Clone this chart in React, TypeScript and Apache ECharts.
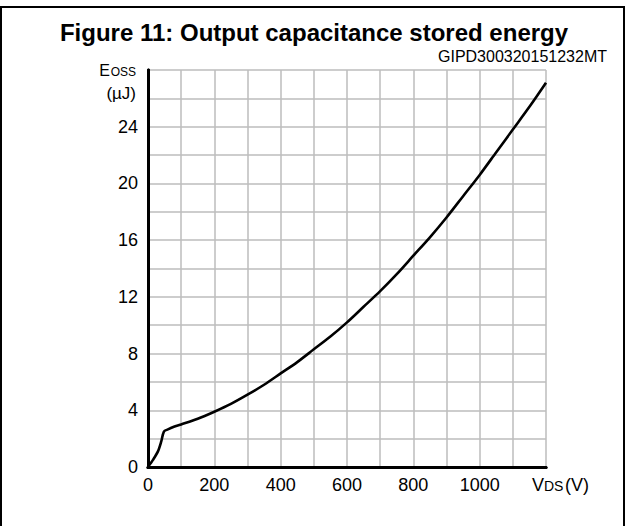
import React, { useEffect, useRef } from "react";
import * as echarts from "echarts";

// Drain-source voltage (V) and output capacitance stored energy (µJ)
const vdsValues = [0, 15, 30, 40, 48, 60, 80, 100, 150, 200, 250, 300, 350, 400, 450, 500, 550, 600, 650, 700, 750, 800, 850, 900, 950, 1000, 1050, 1100, 1150, 1200];
const eossValues = [0, 0.5, 1.1, 1.8, 2.5, 2.65, 2.85, 3.0, 3.4, 3.9, 4.45, 5.1, 5.8, 6.6, 7.4, 8.3, 9.2, 10.2, 11.3, 12.4, 13.6, 14.9, 16.2, 17.6, 19.1, 20.6, 22.2, 23.8, 25.4, 27.1];

const xTickLabels = [0, 200, 400, 600, 800, 1000];
const yTickLabels = [0, 4, 8, 12, 16, 20, 24];

const titleText = "Figure 11: Output capacitance stored energy";
const codeText = "GIPD300320151232MT";

const FONT = "Liberation Sans, Arial, Helvetica, sans-serif";

export default function App() {
  const ref = useRef<HTMLDivElement>(null);

  useEffect(() => {
    if (!ref.current) return;
    const chart = echarts.init(ref.current, undefined, { renderer: "svg" });
    const data = vdsValues.map((v, i) => [v, eossValues[i]]);
    const gridLine = { show: true, lineStyle: { color: "#bdbdbd", width: 1.5 } };
    const borderAxis = { show: true, lineStyle: { color: "#000", width: 3 } };

    chart.setOption({
      animation: false,
      backgroundColor: "#fff",
      grid: { left: 148, top: 70, right: 83, bottom: 59, containLabel: false },
      xAxis: [
        {
          type: "value",
          min: 0,
          max: 1200,
          interval: 100,
          axisLine: borderAxis,
          axisTick: { show: false },
          splitLine: gridLine,
          axisLabel: {
            interval: 0,
            margin: 9,
            fontSize: 18,
            fontFamily: FONT,
            color: "#000",
            showMaxLabel: true,
            formatter: (v: number) => (xTickLabels.includes(v) ? String(v) : ""),
          },
        },
        {
          type: "value",
          position: "top",
          min: 0,
          max: 1200,
          axisLine: borderAxis,
          axisTick: { show: false },
          axisLabel: { show: false },
          splitLine: { show: false },
        },
      ],
      yAxis: [
        {
          type: "value",
          min: 0,
          max: 28,
          interval: 2,
          axisLine: borderAxis,
          axisTick: { show: false },
          splitLine: gridLine,
          axisLabel: {
            margin: 10,
            fontSize: 18,
            fontFamily: FONT,
            color: "#000",
            formatter: (v: number) => (yTickLabels.includes(v) ? String(v) : ""),
          },
        },
        {
          type: "value",
          position: "right",
          min: 0,
          max: 28,
          axisLine: borderAxis,
          axisTick: { show: false },
          axisLabel: { show: false },
          splitLine: { show: false },
        },
      ],
      series: [
        {
          type: "line",
          data,
          smooth: 0.3,
          showSymbol: false,
          z: 5,
          lineStyle: { color: "#000", width: 2.6 },
        },
      ],
      graphic: [
        {
          type: "rect",
          shape: { x: 1, y: 7, width: 623, height: 540 },
          style: { fill: "none", stroke: "#000", lineWidth: 2 },
          silent: true,
        },
        {
          type: "text",
          x: 314,
          y: 32,
          style: {
            text: titleText,
            font: `bold 24px ${FONT}`,
            fill: "#000",
            align: "center",
            verticalAlign: "middle",
          },
        },
        {
          type: "text",
          x: 607,
          y: 56,
          style: {
            text: codeText,
            font: `16px ${FONT}`,
            fill: "#000",
            align: "right",
            verticalAlign: "middle",
          },
        },
        {
          type: "text",
          x: 110,
          y: 70,
          style: { text: "E", font: `16px ${FONT}`, fill: "#000", align: "right", verticalAlign: "middle" },
        },
        {
          type: "text",
          x: 136,
          y: 71.5,
          style: { text: "OSS", font: `12px ${FONT}`, fill: "#000", align: "right", verticalAlign: "middle" },
        },
        {
          type: "text",
          x: 136,
          y: 93,
          style: { text: "(µJ)", font: `17px ${FONT}`, fill: "#000", align: "right", verticalAlign: "middle" },
        },
        {
          type: "text",
          x: 532,
          y: 484.6,
          style: { text: "V", font: `18px ${FONT}`, fill: "#000", align: "left", verticalAlign: "middle" },
        },
        {
          type: "text",
          x: 544,
          y: 486,
          style: { text: "DS", font: `14px ${FONT}`, fill: "#000", align: "left", verticalAlign: "middle" },
        },
        {
          type: "text",
          x: 565,
          y: 484.6,
          style: { text: "(V)", font: `18px ${FONT}`, fill: "#000", align: "left", verticalAlign: "middle" },
        },
      ],
    });
    return () => chart.dispose();
  }, []);

  return (
    <div
      ref={ref}
      style={{ position: "absolute", left: 0, top: 0, width: 629, height: 526 }}
    />
  );
}
